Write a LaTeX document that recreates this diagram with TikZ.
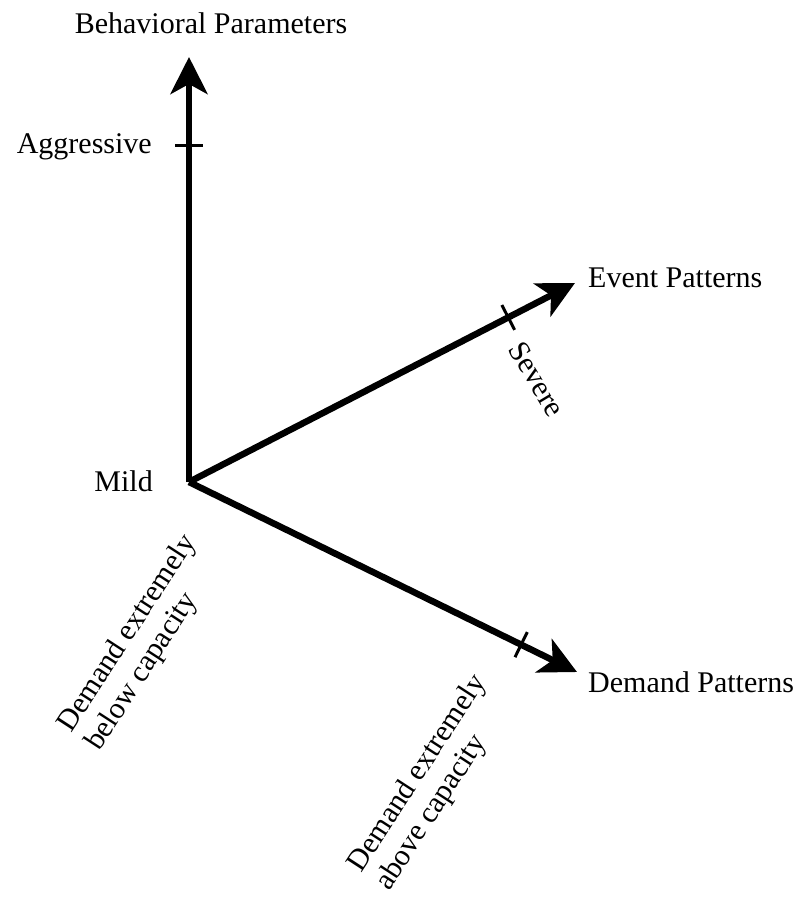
\documentclass[tikz,border=0pt]{standalone}
\usepackage{fontspec}
\setmainfont{Liberation Serif}
\usetikzlibrary{arrows.meta,calc}

\begin{document}
\begin{tikzpicture}[x=1pt, y=-1pt,
    axis/.style={line width=6.5pt, -{Stealth[length=37pt, width=37pt, inset=10pt]}},
    tickmark/.style={line width=3pt},
    lbl/.style={font=\fontsize{30}{33}\selectfont, inner sep=0pt}]
    \useasboundingbox (0,0) rectangle (804,897);

    % origin and axis ends
    \coordinate (O) at (189,482);
    \coordinate (B) at (189,57);
    \coordinate (E) at (575,283);
    \coordinate (D) at (577,672);

    \draw[axis] (O) -- (B);
    \draw[axis] (O) -- (E);
    \draw[axis] (O) -- (D);

    % ticks
    \coordinate (TB) at (189,145);
    \coordinate (TE) at ($(O)!0.827!(E)$);
    \coordinate (TD) at ($(O)!0.856!(D)$);
    \draw[tickmark] ($(TB)!14pt!90:(B)$) -- ($(TB)!14pt!-90:(B)$);
    \draw[tickmark] ($(TE)!14pt!90:(E)$) -- ($(TE)!14pt!-90:(E)$);
    \draw[tickmark] ($(TD)!14pt!90:(D)$) -- ($(TD)!14pt!-90:(D)$);

    % axis names
    \node[lbl, anchor=base] (behav) at (211,33) {Behavioral Parameters};
    \node[lbl, anchor=base west] (event) at (588,287) {Event Patterns};
    \node[lbl, anchor=base west] (demand) at (588,692) {Demand Patterns};

    % values
    \node[lbl, anchor=base east] (aggr) at (152,153) {Aggressive};
    \node[lbl, anchor=base east] (mild) at (153,491) {Mild};
    \node[lbl, rotate=-59] (severe) at (537,379) {Severe};
    \node[lbl, rotate=57, align=left, anchor=base west] (below) at (99,752) {Demand extremely\\below capacity};
    \node[lbl, rotate=57, align=left, anchor=base west] (above) at (389,892) {Demand extremely\\above capacity};
\end{tikzpicture}
\end{document}
